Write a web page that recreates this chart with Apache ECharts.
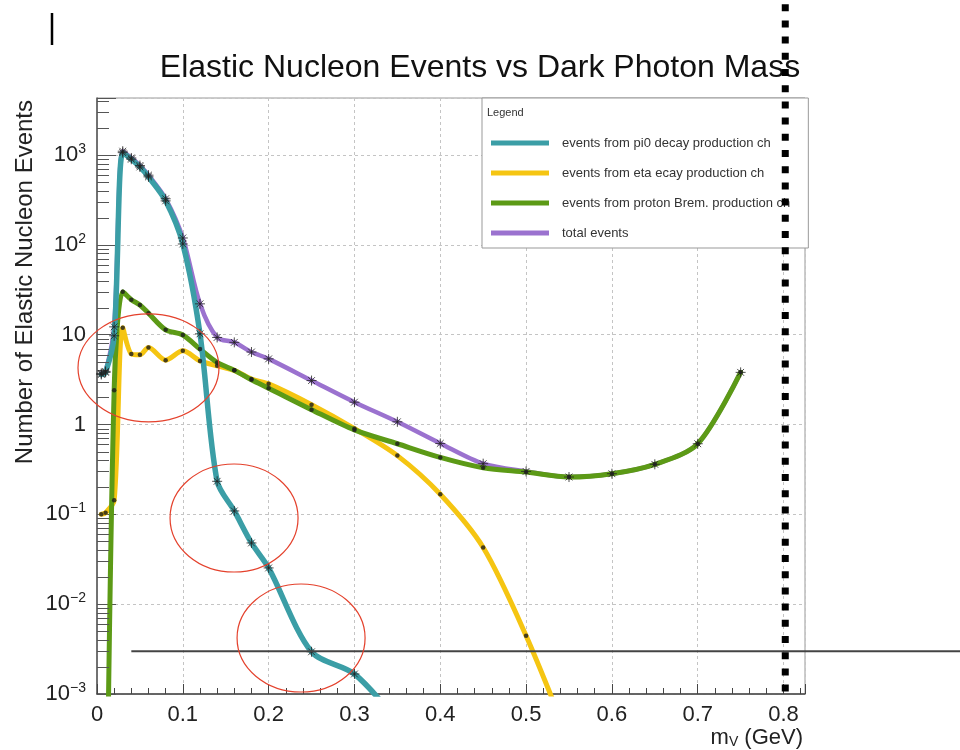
<!DOCTYPE html>
<html><head><meta charset="utf-8">
<script src="https://cdn.jsdelivr.net/npm/echarts@6/dist/echarts.min.js"></script>
<style>html,body{margin:0;padding:0;background:#fff}#c{width:960px;height:750px}</style>
</head><body><div id="c"></div>
<script>
const FONT = 'Liberation Sans, Arial, Helvetica, sans-serif';

const seriesNames = [
  'events from pi0 decay production ch',
  'events from eta ecay production ch',
  'events from proton Brem. production ch',
  'total events'
];

// pi0 decay channel
const xPi0 = [0.005, 0.01, 0.02, 0.03, 0.04, 0.05, 0.06, 0.08, 0.1, 0.12, 0.14, 0.16, 0.18, 0.2, 0.25, 0.3, 0.35];
const yPi0 = [3.6, 3.8, 9.7, 1060, 895, 735, 570, 308, 102, 10.2, 0.233, 0.109, 0.048, 0.0253, 0.00295, 0.00167, 0.0005];

// eta decay channel
const xEta = [0.005, 0.01, 0.02, 0.03, 0.04, 0.05, 0.06, 0.08, 0.1, 0.12, 0.14, 0.16, 0.18, 0.2, 0.25, 0.3, 0.35, 0.4, 0.45, 0.5, 0.55];
const yEta = [0.1, 0.104, 0.143, 11.9, 6.1, 5.95, 7.2, 5.2, 6.6, 5.1, 4.5, 4.0, 3.2, 2.83, 1.66, 0.9, 0.45, 0.167, 0.0427, 0.00445, 0.0003];

// proton bremsstrahlung channel
const xBrem = [0.01, 0.02, 0.03, 0.04, 0.05, 0.06, 0.08, 0.1, 0.12, 0.14, 0.16, 0.18, 0.2, 0.25, 0.3, 0.35, 0.4, 0.45, 0.5, 0.55, 0.6, 0.65, 0.7, 0.75];
const yBrem = [2e-6, 2.4, 30, 24.5, 21.4, 17.3, 11.3, 9.9, 6.9, 4.9, 4.0, 3.14, 2.53, 1.46, 0.87, 0.61, 0.43, 0.33, 0.295, 0.26, 0.283, 0.36, 0.61, 3.8];

// total
const xTot = [0.005, 0.01, 0.02, 0.03, 0.04, 0.05, 0.06, 0.08, 0.1, 0.12, 0.14, 0.16, 0.18, 0.2, 0.25, 0.3, 0.35, 0.4, 0.45, 0.5, 0.55, 0.6, 0.65, 0.7, 0.75];
const yTot = [3.7, 3.9, 12.2, 1100, 925, 762, 595, 325, 119, 22, 9.3, 8.2, 6.4, 5.37, 3.08, 1.77, 1.07, 0.615, 0.366, 0.30, 0.26, 0.283, 0.36, 0.61, 3.8];

const xTickValues = [0, 0.1, 0.2, 0.3, 0.4, 0.5, 0.6, 0.7, 0.8];
const xTickLabels = ['0', '0.1', '0.2', '0.3', '0.4', '0.5', '0.6', '0.7', '0.8'];
const yTickValues = [0.001, 0.01, 0.1, 1, 10, 100, 1000];
const yTickBase = ['10', '10', '10', '1', '10', '10', '10'];
const yTickExp = ['\u22123', '\u22122', '\u22121', '', '', '2', '3'];
const yMinorMultipliers = [2, 3, 4, 5, 6, 7, 8, 9];
const yMax = 4300;

// hand-drawn annotations (data coords of centres)
const hLineValue = 0.003, hLineStartX = 0.04;
const vLineX = 0.802;
const ellipseCentres = [[0.060, 4.27], [0.1597, 0.091], [0.2378, 0.0042]];
const ellipseRadii = [[70.5, 54], [64, 54], [64, 54]];

const colors = ['#3b9ea6', '#f5c512', '#5c9a16', '#9b72cf'];
const pairs = (xs, ys) => xs.map((x, i) => [x, ys[i]]);

const yMinorTicks = [];
yTickValues.forEach(function (d) {
  yMinorMultipliers.forEach(function (k) { if (d * k < yMax) yMinorTicks.push([0, d * k]); });
});

const STAR = 'path://M5,0L5,10M0,5L10,5M1.6,1.6L8.4,8.4M1.6,8.4L8.4,1.6';

function lineSeries(name, xs, ys, color, width, z) {
  return {
    name: name, type: 'line', data: pairs(xs, ys), color: color,
    showSymbol: false, smooth: 0.3, clip: true, z: z,
    lineStyle: { width: width, color: color, cap: 'round', join: 'round' }
  };
}
function markerSeries(xs, ys, star) {
  return {
    type: 'scatter', data: pairs(xs, ys), silent: true, clip: true, z: 10,
    symbol: star ? STAR : 'circle', symbolSize: star ? 10 : 4.5,
    itemStyle: star ? { color: 'transparent', borderColor: '#222', borderWidth: 1 } : { color: '#1b1b1b' }
  };
}

const chart = echarts.init(document.getElementById('c'), null, { renderer: 'canvas' });
const option = {
  animation: false,
  backgroundColor: '#ffffff',
  textStyle: { fontFamily: FONT },
  title: [
    { text: 'Elastic Nucleon Events vs Dark Photon Mass', left: 'center', top: 52, padding: 0,
      textStyle: { fontFamily: FONT, fontSize: 32, fontWeight: 'normal', color: '#111' } },
    { text: 'Legend', left: 487, top: 107, padding: 0,
      textStyle: { fontFamily: FONT, fontSize: 11, fontWeight: 'normal', color: '#333' } }
  ],
  legend: {
    data: seriesNames, orient: 'vertical', left: 482, top: 98,
    padding: [37, 18, 7, 9], itemGap: 14, itemWidth: 58, itemHeight: 5, icon: 'rect',
    backgroundColor: '#fff', borderColor: '#999', borderWidth: 1,
    textStyle: { fontFamily: FONT, fontSize: 13, color: '#333', lineHeight: 16, padding: [0, 0, 0, 8] }
  },
  grid: { left: 97, top: 98, width: 708, height: 596, show: true, borderColor: '#999', borderWidth: 1 },
  xAxis: {
    type: 'value', min: 0, max: 0.825, interval: 0.1,
    name: '{a|m}{b|V}{a| (GeV)}', nameLocation: 'end', nameGap: -2, nameMoveOverlap: false,
    nameTextStyle: { align: 'right', verticalAlign: 'top', padding: [33, 0, 0, 0],
      rich: { a: { fontFamily: FONT, fontSize: 22, color: '#222' },
              b: { fontFamily: FONT, fontSize: 14, color: '#222', verticalAlign: 'bottom', lineHeight: 12 } } },
    axisLine: { show: true, onZero: false, lineStyle: { color: '#444', width: 1.5 } },
    axisTick: { show: true, inside: true, length: 10, lineStyle: { color: '#444', width: 1 } },
    minorTick: { show: true, splitNumber: 5, length: 6, lineStyle: { color: '#444', width: 1 } },
    splitLine: { show: true, lineStyle: { color: '#c4c4c4', width: 1, type: [3, 3] } },
    axisLabel: { margin: 10, fontFamily: FONT, fontSize: 22, color: '#222',
      formatter: function (v) {
        for (let i = 0; i < xTickValues.length; i++) if (Math.abs(v - xTickValues[i]) < 1e-6) return xTickLabels[i];
        return '';
      } }
  },
  yAxis: {
    type: 'log', logBase: 10, min: 0.001, max: yMax,
    name: 'Number of Elastic Nucleon Events', nameLocation: 'end', nameGap: -2, nameRotate: 90, nameMoveOverlap: false,
    nameTextStyle: { fontFamily: FONT, fontSize: 24, color: '#222', align: 'right', verticalAlign: 'bottom', padding: [0, 0, 60, 0] },
    axisLine: { show: true, lineStyle: { color: '#555', width: 1.5 } },
    axisTick: { show: true, inside: true, length: 19, lineStyle: { color: '#555', width: 1 } },
    minorTick: { show: false },
    splitLine: { show: true, lineStyle: { color: '#c4c4c4', width: 1, type: [3, 3] } },
    axisLabel: { margin: 11, fontFamily: FONT, color: '#222',
      formatter: function (v) {
        for (let i = 0; i < yTickValues.length; i++) {
          if (Math.abs(v / yTickValues[i] - 1) < 1e-6) {
            return yTickExp[i] ? '{b|' + yTickBase[i] + '}{s|' + yTickExp[i] + '}' : '{b|' + yTickBase[i] + '}';
          }
        }
        return '';
      },
      rich: { b: { fontFamily: FONT, fontSize: 22, color: '#222', lineHeight: 26 },
              s: { fontFamily: FONT, fontSize: 14, color: '#222', lineHeight: 15, verticalAlign: 'top' } } }
  },
  series: [
    lineSeries(seriesNames[3], xTot, yTot, colors[3], 4.5, 2),
    lineSeries(seriesNames[1], xEta, yEta, colors[1], 5, 3),
    lineSeries(seriesNames[2], xBrem, yBrem, colors[2], 5, 4),
    lineSeries(seriesNames[0], xPi0, yPi0, colors[0], 5.5, 5),
    markerSeries(xEta, yEta, false),
    markerSeries(xBrem, yBrem, false),
    markerSeries(xTot, yTot, true),
    markerSeries(xPi0, yPi0, true),
    {
      type: 'custom', data: yMinorTicks, silent: true, clip: false, z: 6,
      renderItem: function (params, api) {
        const p = api.coord([0, api.value(1)]);
        const y = Math.round(p[1]) + 0.5;
        return { type: 'line', shape: { x1: p[0], y1: y, x2: p[0] + 12, y2: y },
                 style: { stroke: '#555', lineWidth: 1 } };
      }
    }
  ]
};
chart.setOption(option);

// annotations placed through the chart's own coordinate system
const toPx = (x, y) => chart.convertToPixel({ gridIndex: 0 }, [x, y]);
const hStart = toPx(hLineStartX, hLineValue);
const vBot = toPx(vLineX, 0.001);
const elements = [
  { type: 'line', z: 100, silent: true, shape: { x1: hStart[0], y1: hStart[1], x2: 960, y2: hStart[1] },
    style: { stroke: '#444', lineWidth: 2 } },
  { type: 'line', z: 101, silent: true, shape: { x1: vBot[0], y1: 0, x2: vBot[0], y2: vBot[1] },
    style: { stroke: '#000', lineWidth: 7, lineDash: [7, 9.2], lineDashOffset: 12, lineCap: 'butt' } },
  { type: 'line', z: 100, silent: true, shape: { x1: 52, y1: 13, x2: 52, y2: 45 },
    style: { stroke: '#000', lineWidth: 2.5 } }
];
ellipseCentres.forEach(function (c, i) {
  const p = toPx(c[0], c[1]);
  elements.push({ type: 'ellipse', z: 100, silent: true,
    shape: { cx: p[0], cy: p[1], rx: ellipseRadii[i][0], ry: ellipseRadii[i][1] },
    style: { fill: 'none', stroke: '#e4412c', lineWidth: 1.2 } });
});
chart.setOption({ graphic: { elements: elements } });
</script>
</body></html>
